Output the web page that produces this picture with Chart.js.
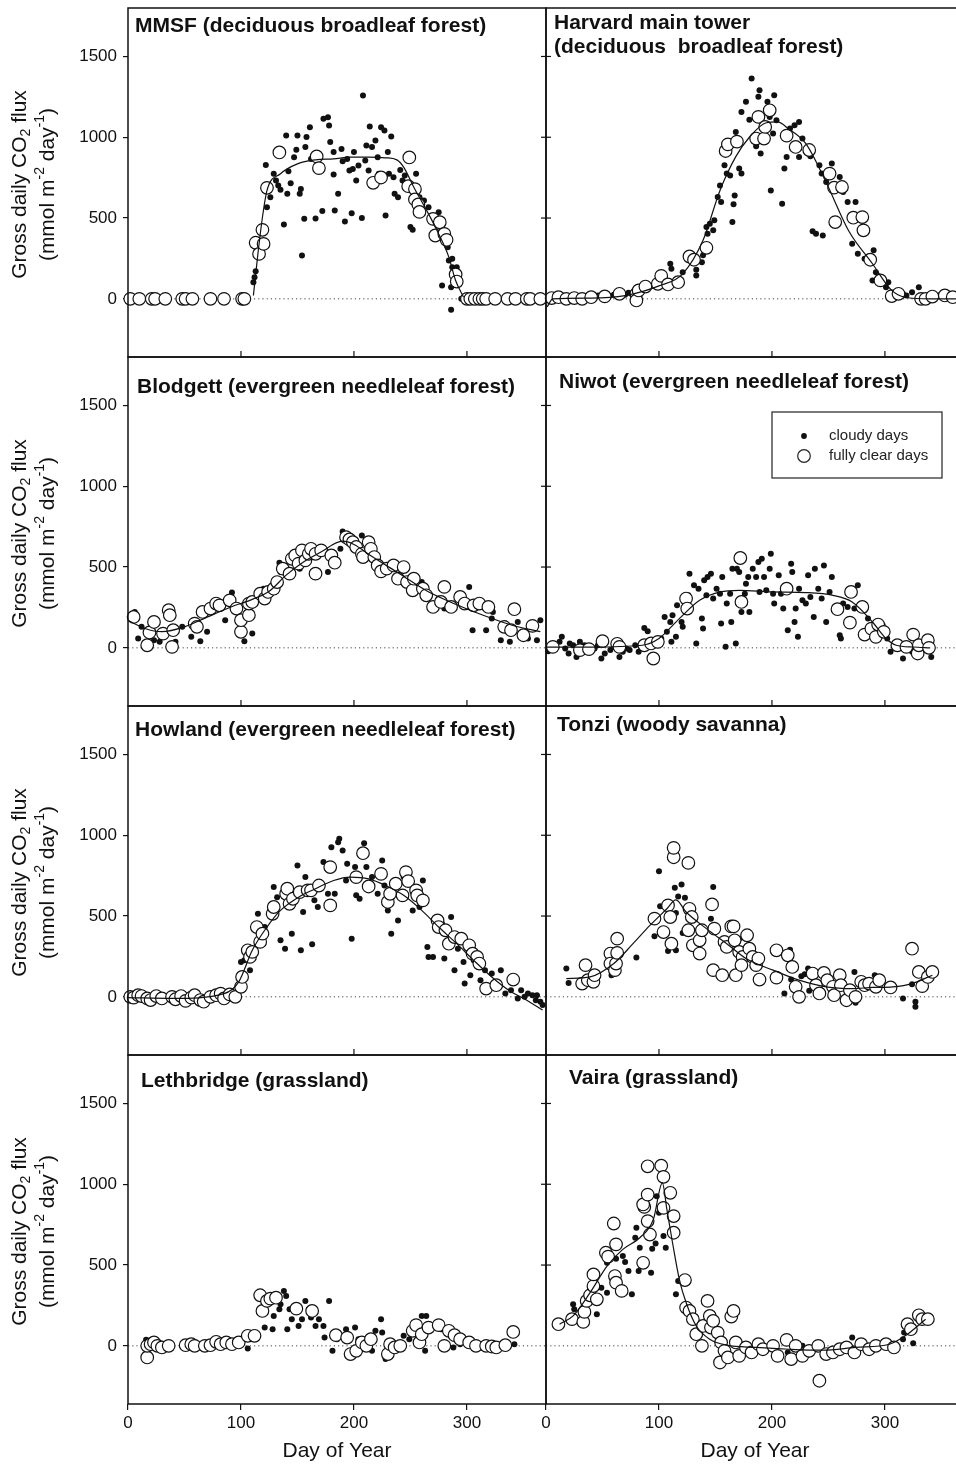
<!DOCTYPE html>
<html>
<head>
<meta charset="utf-8">
<script src="https://cdn.jsdelivr.net/npm/chart.js@4.4.1/dist/chart.umd.min.js"></script>
<style>
html, body { margin: 0; padding: 0; background: #fff; }
#wrap { position: relative; width: 956px; height: 1465px; overflow: hidden; }
#wrap canvas { position: absolute; }
</style>
</head>
<body>
<div id="wrap"></div>
<script>
// ---- data: [day of year, gross daily CO2 flux] ----
const dayTicks = [0, 100, 200, 300];
const fluxTicks = [0, 500, 1000, 1500];

// MMSF
const mmsfClear = [[2,0],[10,0],[21,0],[24,0],[33,0],[48,0],[51,0],[57,0],[73,0],[85,0],[101,0],[103,0],
  [113,347],[116,278],[120,340],[119,427],[123,687],[134,906],[167,881],[169,809],[217,718],[224,751],
  [249,875],[248,697],[254,679],[254,615],[257,584],[258,538],[270,495],[276,474],[272,392],[280,402],
  [282,365],[290,151],[291,107],[300,0],[303,0],[307,0],[311,0],[314,0],[317,0],[325,0],[336,0],
  [343,0],[353,0],[356,0],[365,0]];
const mmsfCloudy = [[111,103],[112,134],[113,171],[122,829],[123,567],[126,629],[129,774],[131,732],
  [133,701],[135,675],[138,460],[140,1011],[141,650],[142,790],[144,716],[147,877],[149,922],[150,1011],
  [152,650],[153,679],[154,268],[156,495],[157,939],[158,1001],[161,1062],[162,866],[166,497],[172,543],
  [173,1114],[177,1124],[178,1073],[179,970],[182,908],[182,770],[183,547],[186,650],[189,928],[190,852],
  [192,479],[194,866],[196,794],[198,530],[199,804],[200,908],[202,732],[204,825],[207,501],[208,1258],
  [210,856],[211,949],[213,794],[214,1066],[216,939],[219,980],[221,877],[222,774],[224,1062],[227,1042],
  [228,516],[230,908],[231,774],[233,1005],[235,753],[236,650],[239,629],[241,798],[243,732],[245,763],
  [250,444],[252,427],[255,774],[258,629],[262,609],[266,567],[268,505],[275,536],[278,83],[283,320],
  [284,237],[287,248],[286,72],[287,196],[291,196],[286,-68],[295,0]];
const mmsfFit = [[111,21],[115,279],[119,505],[123,670],[135,774],[150,835],[166,860],[182,866],[197,877],
  [213,877],[228,873],[238,860],[244,815],[253,691],[266,526],[275,402],[284,258],[290,113],[297,10]];

// Harvard main tower
const harvardClear = [[5,5],[11,10],[18,0],[25,5],[32,0],[40,10],[52,15],[65,31],[80,31],[80,-10],[82,52],
  [88,76],[99,93],[102,142],[108,89],[117,103],[127,262],[131,242],[142,316],[159,915],[161,956],[169,973],
  [186,992],[188,1126],[193,992],[194,1064],[198,1167],[213,1010],[221,940],[233,921],[251,775],[255,688],
  [256,475],[262,692],[272,502],[280,506],[281,424],[287,242],[296,114],[306,17],[312,31],[332,0],[336,0],
  [342,14],[353,21],[360,10]];
const harvardCloudy = [[3,8],[6,-5],[9,12],[12,3],[15,10],[18,-4],[21,14],[24,8],[27,12],[30,5],[33,15],
  [36,10],[40,18],[43,12],[46,20],[50,15],[53,22],[56,18],[60,26],[63,20],[66,30],[70,25],[73,38],[76,28],
  [110,217],[111,186],[121,165],[133,180],[133,145],[138,227],[139,269],[142,444],[143,403],[145,465],
  [148,424],[149,486],[152,630],[154,702],[155,599],[158,826],[160,775],[163,764],[165,475],[166,585],
  [167,640],[168,1033],[171,806],[173,775],[173,1157],[177,1219],[180,1109],[182,1364],[186,944],[188,1250],
  [189,1291],[190,899],[196,1219],[198,1126],[199,671],[201,1023],[202,1260],[204,1105],[209,589],[211,806],
  [213,878],[216,1054],[220,1074],[224,1095],[224,878],[227,992],[230,919],[234,882],[236,419],[239,403],
  [242,826],[244,775],[245,392],[248,723],[253,837],[260,754],[263,661],[267,599],[271,341],[274,599],
  [276,279],[282,248],[290,300],[289,114],[292,165],[301,72],[303,103],[307,31],[316,31],[319,21],[324,41],
  [330,72],[348,21],[357,31]];
const harvardFit = [[1,-50],[6,0],[40,5],[70,20],[100,80],[121,155],[139,362],[154,671],[168,880],[180,1000],
  [195,1090],[205,1095],[215,1050],[230,960],[248,720],[268,420],[289,217],[306,52],[318,10],[340,0],[370,0]];

// Blodgett
const blodgettClear = [[5,191],[17,16],[19,95],[23,160],[31,88],[36,233],[37,202],[39,6],[40,109],[59,150],
  [61,130],[66,222],[73,243],[78,274],[81,263],[90,294],[96,243],[100,99],[100,171],[107,202],[107,274],
  [110,284],[117,335],[121,305],[124,346],[129,366],[132,407],[137,490],[143,459],[145,551],[148,572],
  [151,521],[154,603],[157,541],[160,582],[162,613],[166,459],[166,582],[171,603],[180,572],[183,527],
  [193,685],[196,671],[199,654],[202,624],[207,582],[208,562],[213,654],[215,613],[218,562],[221,510],
  [224,473],[229,490],[235,510],[239,428],[244,500],[247,407],[252,356],[253,428],[261,366],[264,325],
  [270,253],[280,377],[277,284],[286,253],[294,315],[298,274],[306,263],[311,274],[319,253],[333,130],
  [342,239],[339,109],[350,78],[358,136]];
const blodgettCloudy = [[6,222],[9,58],[12,130],[23,47],[28,37],[42,37],[48,130],[56,68],[64,41],[70,99],
  [92,342],[86,171],[103,41],[110,88],[120,366],[134,527],[135,469],[152,490],[177,469],[188,613],[190,720],
  [207,696],[232,521],[260,407],[275,305],[280,243],[302,377],[305,109],[317,109],[322,181],[323,222],
  [330,47],[334,150],[338,37],[345,160],[354,58],[362,47],[365,171]];
const blodgettFit = [[0,170],[15,120],[30,100],[50,130],[70,190],[90,250],[110,300],[125,350],[140,450],
  [155,530],[170,590],[190,660],[200,640],[215,570],[240,460],[265,350],[290,270],[315,200],[340,140],[365,100]];

// Niwot
const niwotClear = [[6,6],[30,-14],[38,-8],[50,41],[63,25],[65,6],[87,16],[95,-66],[93,27],[99,37],[124,305],
  [125,243],[172,556],[173,284],[213,366],[258,239],[269,156],[270,346],[280,253],[282,82],[288,119],
  [292,68],[294,144],[299,99],[311,16],[319,6],[325,82],[329,-35],[330,16],[338,47],[339,0]];
const niwotCloudy = [[2,-21],[8,16],[12,37],[14,68],[17,-4],[20,-35],[21,27],[24,16],[27,-56],[30,37],
  [34,16],[39,-14],[43,-4],[46,16],[49,-66],[52,-35],[57,-14],[61,27],[65,-56],[68,-25],[71,-4],[74,-14],
  [79,16],[82,-25],[85,16],[87,123],[90,103],[99,16],[102,58],[105,191],[107,99],[110,160],[111,37],
  [112,202],[115,68],[116,263],[120,160],[121,130],[126,325],[127,459],[131,387],[133,27],[135,366],
  [138,181],[139,119],[140,418],[142,325],[143,438],[146,459],[148,305],[151,366],[154,335],[155,150],
  [156,438],[159,6],[160,274],[163,335],[164,160],[165,490],[168,27],[169,490],[171,469],[173,222],
  [176,335],[177,397],[179,438],[180,222],[183,490],[186,438],[188,531],[189,346],[191,551],[193,438],
  [195,356],[198,490],[199,582],[201,335],[202,274],[206,449],[208,335],[210,243],[214,109],[216,356],
  [217,521],[218,469],[220,160],[221,243],[223,68],[224,366],[227,294],[230,274],[232,449],[234,315],
  [237,191],[238,490],[241,366],[244,305],[246,510],[248,160],[251,346],[253,438],[260,78],[261,58],
  [263,274],[267,253],[273,243],[276,387],[282,233],[285,181],[287,119],[289,99],[294,109],[298,140],
  [302,58],[305,-25],[308,16],[311,-4],[316,-66],[320,6],[324,-25],[330,-4],[341,-56]];
const niwotFit = [[0,5],[40,5],[85,16],[100,58],[118,181],[136,294],[154,346],[171,356],[200,346],[230,342],
  [254,325],[271,284],[289,160],[301,58],[310,16],[325,5],[340,0]];

// Howland
const howlandClear = [[2,0],[5,-5],[9,10],[12,5],[17,-10],[20,-20],[25,5],[30,-10],[39,0],[42,-15],[47,5],
  [51,-25],[56,-5],[59,10],[64,-20],[67,-30],[73,0],[78,10],[82,20],[85,-10],[90,15],[95,0],[100,62],
  [101,123],[106,288],[108,247],[110,278],[114,432],[117,340],[119,391],[128,514],[129,556],[140,638],
  [141,669],[143,576],[146,607],[152,648],[159,659],[162,659],[169,689],[179,566],[179,803],[202,741],
  [208,889],[213,683],[224,761],[230,587],[232,638],[237,700],[243,628],[246,772],[248,716],[255,659],
  [256,628],[261,597],[274,473],[275,432],[281,412],[284,329],[289,370],[295,360],[302,319],[305,267],
  [309,247],[311,206],[317,51],[326,72],[341,107]];
const howlandCloudy = [[93,0],[100,216],[103,226],[108,165],[115,514],[121,432],[129,679],[132,617],
  [135,350],[139,298],[145,391],[150,813],[153,288],[155,525],[157,741],[163,325],[165,597],[168,556],
  [173,834],[177,638],[180,926],[183,638],[186,957],[187,978],[190,906],[193,720],[194,823],[198,360],
  [201,803],[202,628],[205,607],[209,951],[211,803],[216,741],[221,638],[225,844],[227,689],[230,535],
  [233,391],[239,473],[244,741],[252,535],[258,556],[261,720],[265,309],[266,247],[270,247],[278,453],
  [280,237],[286,494],[289,165],[292,298],[297,216],[298,82],[303,134],[306,226],[312,103],[316,165],
  [322,144],[330,165],[334,21],[339,41],[345,-10],[348,41],[351,0],[354,21],[358,10],[361,-21],[362,10],
  [365,-31],[367,-51]];
const howlandFit = [[0,-5],[40,-10],[85,20],[98,93],[110,288],[123,432],[135,535],[151,617],[166,669],
  [182,720],[197,741],[213,730],[228,689],[244,628],[260,535],[275,432],[291,329],[306,226],[322,123],
  [337,41],[353,-21],[367,-82]];

// Tonzi
const tonziClear = [[32,82],[35,196],[37,103],[42,93],[43,134],[57,268],[57,206],[61,165],[62,206],[63,272],
  [63,360],[96,484],[104,401],[108,566],[110,494],[111,329],[113,864],[113,922],[126,829],[127,545],
  [126,412],[129,494],[130,319],[136,350],[136,268],[138,412],[147,572],[149,422],[148,165],[156,134],
  [158,340],[164,436],[166,436],[160,309],[167,350],[168,134],[171,278],[174,247],[173,196],[178,381],
  [180,298],[183,247],[186,196],[188,237],[189,107],[204,288],[204,119],[214,257],[218,185],[221,62],
  [224,0],[236,144],[239,72],[242,21],[246,148],[249,103],[254,62],[255,10],[260,134],[261,72],[266,-21],
  [269,41],[274,0],[279,93],[282,72],[286,82],[292,62],[295,103],[305,58],[324,298],[330,154],[333,66],
  [338,123],[342,154]];
const tonziCloudy = [[18,175],[20,86],[39,128],[58,134],[80,243],[96,375],[100,778],[101,560],[108,284],
  [114,675],[115,288],[117,621],[120,696],[123,613],[115,519],[146,484],[148,679],[121,395],[171,360],
  [211,21],[216,292],[217,107],[226,128],[229,140],[232,175],[233,37],[273,154],[274,-37],[291,134],
  [316,-10],[324,78],[327,-31],[327,-62]];
const tonziFit = [[18,113],[39,123],[60,206],[77,329],[92,442],[107,545],[115,600],[124,525],[142,422],
  [160,329],[177,237],[201,165],[224,103],[248,62],[271,51],[289,58],[307,62],[324,82],[342,134]];

// Lethbridge
const lethbridgeClear = [[17,-72],[17,0],[20,10],[23,21],[26,0],[30,-10],[36,0],[51,4],[56,10],[59,0],
  [68,0],[73,4],[78,25],[82,10],[87,21],[92,10],[98,21],[106,62],[112,62],[117,313],[119,216],[123,278],
  [126,292],[131,298],[149,230],[163,216],[184,66],[194,51],[197,-51],[202,-31],[207,21],[211,0],[215,41],
  [230,-51],[232,10],[236,-10],[241,0],[252,93],[255,128],[258,21],[260,72],[266,113],[275,128],[280,0],
  [284,93],[289,66],[294,41],[302,21],[308,0],[317,0],[322,-4],[326,-10],[334,4],[341,86]];
const lethbridgeCloudy = [[16,37],[106,-16],[121,113],[128,103],[129,185],[134,226],[135,257],[138,340],
  [140,309],[141,103],[143,226],[145,165],[151,123],[154,165],[157,278],[160,226],[162,175],[166,123],
  [169,165],[173,123],[174,51],[178,278],[181,-31],[185,41],[193,103],[201,113],[204,41],[216,-31],
  [219,93],[224,165],[225,82],[228,-82],[244,62],[249,41],[260,185],[263,-31],[264,185],[277,103],
  [288,-10],[294,10],[342,10]];

// Vaira
const vairaClear = [[11,134],[23,165],[33,148],[34,210],[36,278],[39,313],[42,370],[42,442],[45,288],
  [53,576],[55,552],[60,757],[61,432],[62,628],[62,391],[67,340],[86,514],[87,860],[86,875],[90,772],
  [90,936],[90,1111],[92,689],[102,1115],[104,1046],[104,854],[110,947],[113,803],[113,700],[123,407],
  [124,237],[127,216],[130,165],[133,72],[138,0],[139,123],[143,278],[145,185],[146,113],[148,154],
  [152,82],[154,-103],[155,21],[158,-31],[161,-72],[164,181],[166,216],[168,21],[171,-62],[177,-10],
  [182,-41],[188,10],[192,-21],[201,0],[205,-62],[213,37],[217,-82],[221,0],[227,-62],[233,-31],[241,0],
  [242,-216],[248,-51],[254,-41],[260,-21],[266,-10],[273,-41],[279,10],[286,-21],[292,0],[301,10],
  [308,-10],[320,134],[323,103],[330,189],[333,165],[338,165]];
const vairaCloudy = [[24,257],[25,226],[45,196],[49,360],[54,329],[54,514],[62,539],[68,556],[70,519],
  [73,463],[76,319],[79,669],[80,731],[83,607],[82,463],[93,453],[94,601],[97,634],[98,926],[100,823],
  [104,679],[106,607],[115,319],[117,401],[214,-41],[227,0],[271,51],[316,41],[317,82],[325,16]];
const vairaFit = [[12,134],[24,185],[39,329],[54,494],[68,597],[83,669],[95,782],[103,1008],[107,844],
  [112,638],[118,412],[124,268],[133,123],[145,41],[160,4],[186,-10],[215,-21],[245,-27],[274,-10],
  [304,10],[318,62],[336,165]];

// ---- layout ----
const FONT = '"Liberation Sans", Arial, Helvetica, sans-serif';
const INK = '#111';
const PAD = 18;            // must exceed the y-axis label padding Chart.js reserves
const ROW_TOP = [8, 357, 706, 1055];
const ROW_H = 349;
const COL_LEFT = [128, 546];
const PLOT_W = 418;
const PAGE_H = 1465;

const panels = [
  { row: 0, col: 0, title: ['MMSF (deciduous broadleaf forest)'], tx: 7, ty: 18, clear: mmsfClear, cloudy: mmsfCloudy, fit: mmsfFit },
  { row: 0, col: 1, title: ['Harvard main tower', '(deciduous  broadleaf forest)'], tx: 8, ty: 15, clear: harvardClear, cloudy: harvardCloudy, fit: harvardFit },
  { row: 1, col: 0, title: ['Blodgett (evergreen needleleaf forest)'], tx: 9, ty: 30, clear: blodgettClear, cloudy: blodgettCloudy, fit: blodgettFit },
  { row: 1, col: 1, title: ['Niwot (evergreen needleleaf forest)'], tx: 13, ty: 25, clear: niwotClear, cloudy: niwotCloudy, fit: niwotFit, legend: true },
  { row: 2, col: 0, title: ['Howland (evergreen needleleaf forest)'], tx: 7, ty: 24, clear: howlandClear, cloudy: howlandCloudy, fit: howlandFit },
  { row: 2, col: 1, title: ['Tonzi (woody savanna)'], tx: 11, ty: 19, clear: tonziClear, cloudy: tonziCloudy, fit: tonziFit },
  { row: 3, col: 0, title: ['Lethbridge (grassland)'], tx: 13, ty: 26, clear: lethbridgeClear, cloudy: lethbridgeCloudy, fit: [] },
  { row: 3, col: 1, title: ['Vaira (grassland)'], tx: 23, ty: 23, clear: vairaClear, cloudy: vairaCloudy, fit: vairaFit }
];

const toXY = arr => arr.map(([x, y]) => ({ x, y }));

// rich text helper for sub/superscripts (kind: 0 normal, 1 sub, 2 sup)
function drawRich(ctx, parts, cx, cy) {
  const big = '21px ' + FONT, small = '14px ' + FONT;
  let w = 0;
  parts.forEach(([t, k]) => { ctx.font = k ? small : big; w += ctx.measureText(t).width; });
  ctx.save();
  ctx.translate(cx, cy);
  ctx.rotate(-Math.PI / 2);
  ctx.textBaseline = 'middle';
  ctx.textAlign = 'left';
  let xx = -w / 2;
  parts.forEach(([t, k]) => {
    ctx.font = k ? small : big;
    const dy = k === 1 ? 6 : k === 2 ? -8 : 0;
    ctx.fillText(t, xx, dy);
    xx += ctx.measureText(t).width;
  });
  ctx.restore();
}

const decor = {
  id: 'decor',
  beforeDatasetsDraw(chart) {
    const { ctx, chartArea: a, scales: { y } } = chart;
    const y0 = y.getPixelForValue(0);
    ctx.save();
    ctx.strokeStyle = '#444';
    ctx.lineWidth = 1;
    ctx.setLineDash([1.2, 3]);
    ctx.beginPath(); ctx.moveTo(a.left, y0); ctx.lineTo(a.right, y0); ctx.stroke();
    ctx.restore();
  },
  afterDraw(chart, args, o) {
    const { ctx, chartArea: a, scales: { x, y } } = chart;
    const seg = (x1, y1, x2, y2) => { ctx.beginPath(); ctx.moveTo(x1, y1); ctx.lineTo(x2, y2); ctx.stroke(); };
    ctx.save();
    ctx.strokeStyle = INK;
    ctx.lineWidth = 1.5;
    ctx.strokeRect(a.left, a.top, a.right - a.left, a.bottom - a.top);

    // small inner ticks
    ctx.lineWidth = 1.2;
    if (!o.bottomRow) dayTicks.slice(1).forEach(d => { const px = x.getPixelForValue(d); seg(px, a.bottom, px, a.bottom - 6); });
    fluxTicks.slice(1).forEach(v => {
      const py = y.getPixelForValue(v);
      if (o.col === 0) seg(a.right, py, a.right - 5, py); else seg(a.left, py, a.left + 5, py);
    });

    // panel title
    ctx.fillStyle = INK;
    ctx.font = 'bold 21px ' + FONT;
    ctx.textBaseline = 'middle';
    ctx.textAlign = 'left';
    o.title.forEach((t, i) => ctx.fillText(t, a.left + o.tx, a.top + o.ty + i * 24));

    // y axis title
    if (o.col === 0) {
      const cy = (a.top + a.bottom) / 2 + 2;
      drawRich(ctx, [['Gross daily CO', 0], ['2', 1], [' flux', 0]], 20, cy);
      drawRich(ctx, [['(mmol m', 0], ['-2', 2], [' day', 0], ['-1', 2], [')', 0]], 48, cy);
    }

    // legend
    if (o.legend) {
      const bx = a.left + 226, by = a.top + 55;
      ctx.lineWidth = 1.2;
      ctx.strokeStyle = '#222';
      ctx.strokeRect(bx, by, 170, 66);
      ctx.fillStyle = INK;
      ctx.beginPath(); ctx.arc(bx + 32, by + 24, 2.9, 0, Math.PI * 2); ctx.fill();
      ctx.fillStyle = '#fff';
      ctx.beginPath(); ctx.arc(bx + 32, by + 44, 6.3, 0, Math.PI * 2); ctx.fill(); ctx.stroke();
      ctx.fillStyle = '#222';
      ctx.font = '15px ' + FONT;
      ctx.fillText('cloudy days', bx + 57, by + 24);
      ctx.fillText('fully clear days', bx + 57, by + 44);
    }
    ctx.restore();
  }
};

const wrap = document.getElementById('wrap');

panels.forEach(p => {
  const bottomRow = p.row === 3;
  const leftCol = p.col === 0;
  const ctop = ROW_TOP[p.row] - PAD;
  const left = leftCol ? 0 : COL_LEFT[1] - PAD;
  const width = leftCol ? COL_LEFT[0] + PLOT_W + PAD : PAD + PLOT_W + PAD;
  const height = bottomRow ? PAGE_H - ctop : ROW_H + 2 * PAD;
  const cv = document.createElement('canvas');
  cv.style.left = left + 'px';
  cv.style.top = ctop + 'px';
  cv.style.width = width + 'px';
  cv.style.height = height + 'px';
  cv.width = width;
  cv.height = height;
  wrap.appendChild(cv);

  new Chart(cv, {
    type: 'scatter',
    data: {
      datasets: [
        { label: 'fit', data: toXY(p.fit), showLine: true, borderColor: INK, borderWidth: 1.2,
          pointRadius: 0, cubicInterpolationMode: 'monotone', fill: false, clip: false },
        { label: 'fully clear days', data: toXY(p.clear), pointRadius: 6.3, pointBorderWidth: 1.2,
          pointBackgroundColor: '#fff', pointBorderColor: INK, backgroundColor: '#fff', borderColor: INK, clip: false },
        { label: 'cloudy days', data: toXY(p.cloudy), pointRadius: 3, pointBorderWidth: 0,
          pointBackgroundColor: INK, backgroundColor: INK, borderColor: INK, clip: false }
      ]
    },
    options: {
      responsive: false,
      animation: false,
      events: [],
      layout: {
        autoPadding: false,
        padding: { left: leftCol ? 0 : PAD, right: PAD, top: PAD, bottom: bottomRow ? 0 : PAD }
      },
      plugins: {
        legend: { display: false },
        tooltip: { enabled: false },
        decor: { col: p.col, bottomRow, title: p.title, tx: p.tx, ty: p.ty, legend: !!p.legend }
      },
      scales: {
        x: {
          type: 'linear', min: 0, max: 370,
          display: bottomRow,
          afterBuildTicks: s => { s.ticks = dayTicks.map(v => ({ value: v })); },
          afterFit: s => { s.height = bottomRow ? PAGE_H - (ROW_TOP[3] + ROW_H) : 0; },
          border: { display: false },
          grid: { drawOnChartArea: false, drawTicks: true, tickLength: 6, color: INK, lineWidth: 1.2 },
          ticks: { color: INK, font: { family: FONT, size: 17 }, padding: 3, maxRotation: 0, callback: v => String(v) },
          title: { display: true, text: 'Day of Year', color: INK, font: { family: FONT, size: 21 }, padding: { top: 0, bottom: 1 } }
        },
        y: {
          type: 'linear', min: -360, max: 1800,
          display: leftCol,
          afterBuildTicks: s => { s.ticks = fluxTicks.map(v => ({ value: v })); },
          afterFit: s => { s.width = leftCol ? COL_LEFT[0] : 0; },
          border: { display: false },
          grid: { drawOnChartArea: false, drawTicks: true, tickLength: 5, color: INK, lineWidth: 1.2 },
          ticks: { color: INK, font: { family: FONT, size: 17 }, padding: 6, callback: v => String(v) }
        }
      }
    },
    plugins: [decor]
  });
});
</script>
</body>
</html>
